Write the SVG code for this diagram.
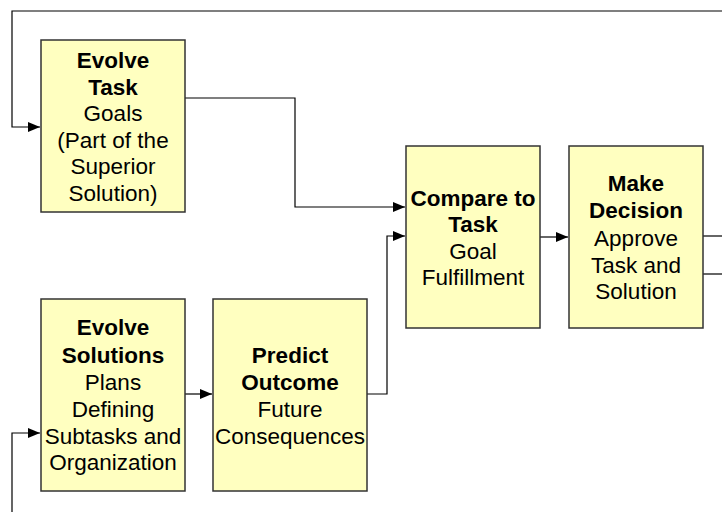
<svg xmlns="http://www.w3.org/2000/svg" width="722" height="512" viewBox="0 0 722 512">
<style>
.box{fill:#FFFFC0;stroke:#333333;stroke-width:1.5}
.ln{fill:none;stroke:#000000;stroke-width:1.2}
text{font-family:"Liberation Sans",Arial,sans-serif;font-size:22.5px;fill:#000000;text-anchor:middle}
.b{font-weight:bold}
</style>
<defs>
<marker id="ah" viewBox="0 0 12 10" refX="12" refY="5" markerWidth="12" markerHeight="10" markerUnits="userSpaceOnUse" orient="auto">
<path d="M0,0 L12,5 L0,10 Z" fill="#000000"/>
</marker>
</defs>
<rect width="722" height="512" fill="#FFFFFF"/>
<g id="connectors">
<path class="ln" d="M722,11 H12 V127 H40" marker-end="url(#ah)"/>
<path class="ln" d="M185,98 H295 V207 H405" marker-end="url(#ah)"/>
<path class="ln" d="M367,394 H387 V236 H405" marker-end="url(#ah)"/>
<path class="ln" d="M540,237 H568" marker-end="url(#ah)"/>
<path class="ln" d="M185,394 H212" marker-end="url(#ah)"/>
<path class="ln" d="M12,512 V433 H40" marker-end="url(#ah)"/>
<path class="ln" d="M703,236 H722"/>
<path class="ln" d="M703,274 H722"/>
</g>
<g id="evolve-task">
<rect class="box" x="41" y="40" width="144" height="172"/>
<text x="113" y="68" class="b">Evolve</text>
<text x="113" y="94.5" class="b">Task</text>
<text x="113" y="121">Goals</text>
<text x="113" y="147.7">(Part of the</text>
<text x="113" y="174.3">Superior</text>
<text x="113" y="201">Solution)</text>
</g>
<g id="compare">
<rect class="box" x="406" y="146" width="134" height="182"/>
<text x="473" y="206" class="b">Compare to</text>
<text x="473" y="232" class="b">Task</text>
<text x="473" y="258.5">Goal</text>
<text x="473" y="284.5">Fulfillment</text>
</g>
<g id="decision">
<rect class="box" x="569" y="146" width="134" height="182"/>
<text x="636" y="191" class="b">Make</text>
<text x="636" y="218" class="b">Decision</text>
<text x="636" y="245.5">Approve</text>
<text x="636" y="272.5">Task and</text>
<text x="636" y="298.5">Solution</text>
</g>
<g id="evolve-solutions">
<rect class="box" x="41" y="299" width="144" height="192"/>
<text x="113" y="335" class="b">Evolve</text>
<text x="113" y="362.5" class="b">Solutions</text>
<text x="113" y="390">Plans</text>
<text x="113" y="416.5">Defining</text>
<text x="113" y="444">Subtasks and</text>
<text x="113" y="470">Organization</text>
</g>
<g id="predict">
<rect class="box" x="213" y="299" width="154" height="192"/>
<text x="290" y="362.5" class="b">Predict</text>
<text x="290" y="390" class="b">Outcome</text>
<text x="290" y="416.5">Future</text>
<text x="290" y="444">Consequences</text>
</g>
</svg>
